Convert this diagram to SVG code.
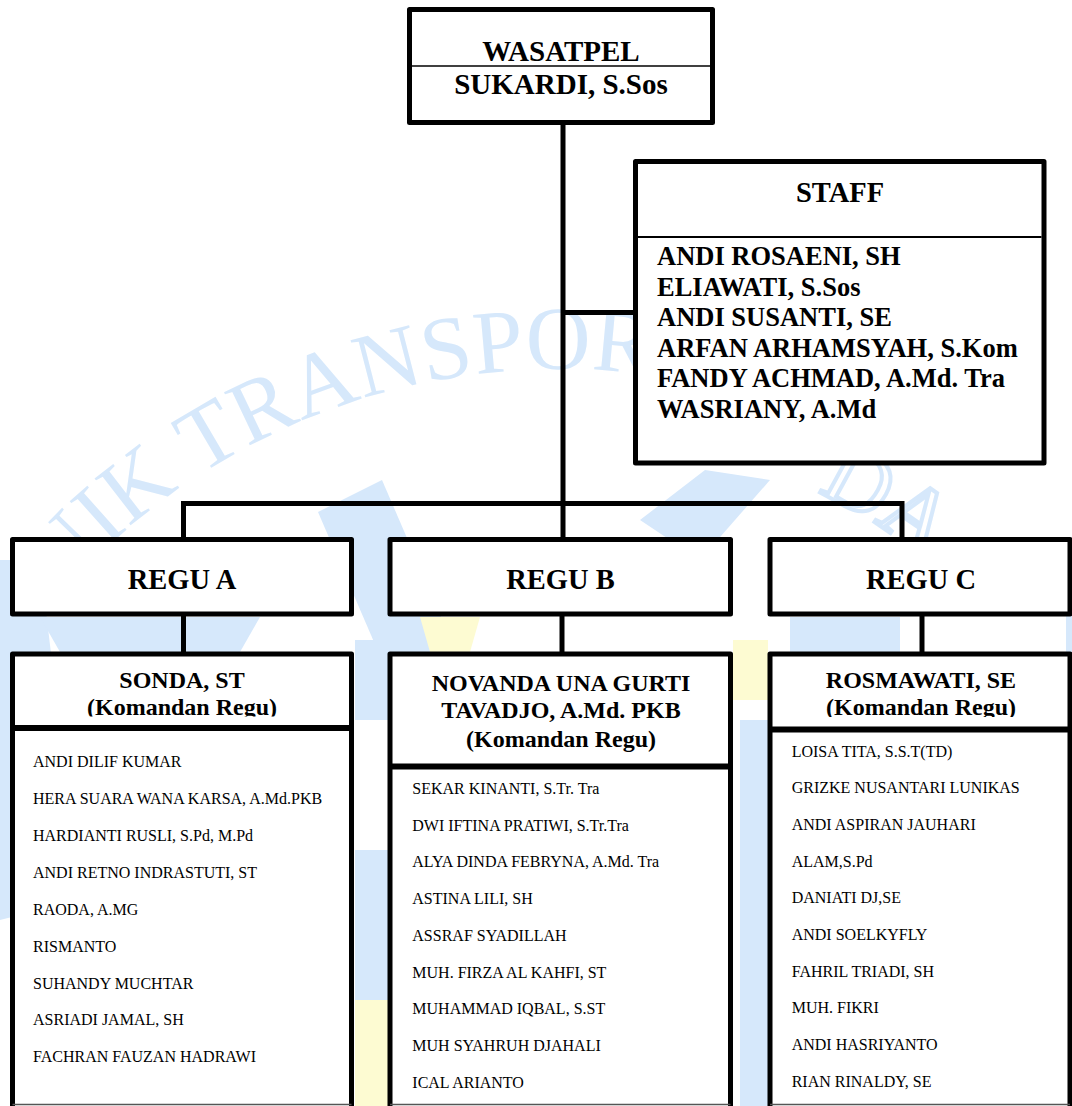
<svg xmlns="http://www.w3.org/2000/svg" width="1072" height="1106" viewBox="0 0 1072 1106">
<defs>
<style>
.box{fill:#fff;stroke:#000;stroke-width:5;stroke-linejoin:round}
.div{stroke:#000;stroke-width:1.6}
.divk{stroke:#000;stroke-width:6}
.conn{stroke:#000;stroke-width:5;fill:none;stroke-linejoin:miter}
.b{font-family:"Liberation Serif","Times New Roman",serif;font-weight:bold;fill:#000}
.c{text-anchor:middle}
.s29{font-size:29px}
.s28{font-size:28.5px}
.s26{font-size:26.5px}
.s24{font-size:24px}
.it{font-family:"Liberation Serif","Times New Roman",serif;font-size:16px;fill:#000}
.bot{stroke:#555;stroke-width:1.5}
.wm{fill:#d6e8fb}
.wmy{fill:#fdfbd2}
.wmt{font-family:"Liberation Serif","Times New Roman",serif;font-size:90px;fill:#d6e8fb;text-anchor:middle}
.wmo{font-family:"Liberation Serif","Times New Roman",serif;font-size:90px;fill:none;stroke:#d6e8fb;stroke-width:4;text-anchor:middle}
</style>
<clipPath id="clipA"><rect x="12" y="654" width="340" height="62.5"/></clipPath>
<clipPath id="clipC"><rect x="770" y="654" width="300" height="63"/></clipPath>
</defs>

<g id="watermark">
  <polygon class="wm" points="318,512 382,480 520,800 455,830"/>
  <polygon class="wm" points="640,520 705,470 770,480 700,560"/>
  <polygon class="wm" points="0,560 40,560 80,900 0,920"/>
  <polygon class="wm" points="40,617 260,617 240,652 60,652"/>
  <polygon class="wm" points="355,640 388,640 388,720 355,720"/>
  <polygon class="wm" points="355,850 388,850 388,1000 355,1000"/>
  <polygon class="wmy" points="355,1000 388,1000 388,1106 355,1106"/>
  <polygon class="wmy" points="733,640 768,640 768,700 733,700"/>
  <polygon class="wm" points="740,720 768,720 768,1106 740,1106"/>
  <polygon class="wm" points="1066,600 1072,600 1072,1000 1066,1000"/>
  <polygon class="wmy" points="420,617 480,617 470,652 430,652"/>
  <polygon class="wm" points="790,617 900,617 900,652 790,652"/>
  <text class="wmt" transform="translate(83.1,570.6) rotate(-45.81)">N</text>
  <text class="wmt" transform="translate(117.6,537.5) rotate(-41.7)">I</text>
  <text class="wmt" transform="translate(154.3,507) rotate(-37.59)">K</text>
  <text class="wmt" transform="translate(223,460.7) rotate(-30.45)">T</text>
  <text class="wmt" transform="translate(274,433.6) rotate(-25.47)">R</text>
  <text class="wmt" transform="translate(331.9,409.4) rotate(-20.06)">A</text>
  <text class="wmt" transform="translate(394.3,389.9) rotate(-14.43)">N</text>
  <text class="wmt" transform="translate(450.7,378) rotate(-9.46)">S</text>
  <text class="wmt" transform="translate(500.7,371.7) rotate(-5.12)">P</text>
  <text class="wmt" transform="translate(558.3,369) rotate(-0.15)">O</text>
  <text class="wmt" transform="translate(621,371.8) rotate(5.27)">R</text>
  <text class="wmo" transform="translate(846.3,506.7) rotate(28.5)">D</text>
  <text class="wmo" transform="translate(900.5,540) rotate(34.56)">A</text>
</g>

<g id="connectors" class="conn">
  <path d="M563 122 V539"/>
  <path d="M563 312.5 H635"/>
  <path d="M183.5 539 V503.5 H902 V539"/>
  <path d="M183.5 614 V654"/>
  <path d="M562 614 V654"/>
  <path d="M922 614 V654"/>
</g>

<g id="wasatpel">
  <rect class="box" x="409.5" y="9.5" width="303" height="113"/>
  <line class="div" x1="412" y1="66" x2="710" y2="66"/>
  <text class="b c s29" x="561" y="61">WASATPEL</text>
  <text class="b c s29" x="561" y="94">SUKARDI, S.Sos</text>
</g>

<g id="staff">
  <rect class="box" x="635.5" y="161.5" width="408.5" height="301.5"/>
  <line class="div" x1="638" y1="237" x2="1041.5" y2="237" style="stroke-width:2"/>
  <text class="b c s28" x="840" y="202">STAFF</text>
  <text class="b s26" x="657" y="265">ANDI ROSAENI, SH</text>
  <text class="b s26" x="657" y="295.6">ELIAWATI, S.Sos</text>
  <text class="b s26" x="657" y="326.2">ANDI SUSANTI, SE</text>
  <text class="b s26" x="657" y="356.8">ARFAN ARHAMSYAH, S.Kom</text>
  <text class="b s26" x="657" y="387.4">FANDY ACHMAD, A.Md. Tra</text>
  <text class="b s26" x="657" y="418">WASRIANY, A.Md</text>
</g>

<g id="regu-a">
  <rect class="box" x="12.5" y="539.5" width="339" height="74.5"/>
  <text class="b c s28" x="182" y="589">REGU A</text>
</g>
<g id="regu-b">
  <rect class="box" x="390" y="539.5" width="340.5" height="74.5"/>
  <text class="b c s28" x="560.5" y="589">REGU B</text>
</g>
<g id="regu-c">
  <rect class="box" x="770" y="539.5" width="300" height="74.5"/>
  <text class="b c s28" x="921" y="589">REGU C</text>
</g>

<g id="team-a">
  <path class="box" d="M12.5 1106 V654 H351.5 V1106"/>
  <line class="divk" x1="12.5" y1="728" x2="351.5" y2="728"/>
  <line class="bot" x1="12.5" y1="1104.5" x2="351.5" y2="1104.5"/>
  <g clip-path="url(#clipA)">
    <text class="b c s24" x="182" y="688">SONDA, ST</text>
    <text class="b c s24" x="182" y="715">(Komandan Regu)</text>
  </g>
  <g class="it">
    <text x="33" y="767.3">ANDI DILIF KUMAR</text>
    <text x="33" y="804.2">HERA SUARA WANA KARSA, A.Md.PKB</text>
    <text x="33" y="841.1">HARDIANTI RUSLI, S.Pd, M.Pd</text>
    <text x="33" y="877.9">ANDI RETNO INDRASTUTI, ST</text>
    <text x="33" y="914.8">RAODA, A.MG</text>
    <text x="33" y="951.7">RISMANTO</text>
    <text x="33" y="988.6">SUHANDY MUCHTAR</text>
    <text x="33" y="1025.4">ASRIADI JAMAL, SH</text>
    <text x="33" y="1062.3">FACHRAN FAUZAN HADRAWI</text>
  </g>
</g>

<g id="team-b">
  <path class="box" d="M390 1106 V654 H730.5 V1106"/>
  <line class="divk" x1="390" y1="766.5" x2="730.5" y2="766.5"/>
  <line class="bot" x1="390" y1="1104.5" x2="730.5" y2="1104.5"/>
  <text class="b c s24" x="561" y="690.7">NOVANDA UNA GURTI</text>
  <text class="b c s24" x="561" y="718.3">TAVADJO, A.Md. PKB</text>
  <text class="b c s24" x="561" y="746.7">(Komandan Regu)</text>
  <g class="it">
    <text x="412.3" y="794">SEKAR KINANTI, S.Tr. Tra</text>
    <text x="412.3" y="830.7">DWI IFTINA PRATIWI, S.Tr.Tra</text>
    <text x="412.3" y="867.4">ALYA DINDA FEBRYNA, A.Md. Tra</text>
    <text x="412.3" y="904.1">ASTINA LILI, SH</text>
    <text x="412.3" y="940.8">ASSRAF SYADILLAH</text>
    <text x="412.3" y="977.5">MUH. FIRZA AL KAHFI, ST</text>
    <text x="412.3" y="1014.2">MUHAMMAD IQBAL, S.ST</text>
    <text x="412.3" y="1051">MUH SYAHRUH DJAHALI</text>
    <text x="412.3" y="1087.7">ICAL ARIANTO</text>
  </g>
</g>

<g id="team-c">
  <path class="box" d="M770 1106 V654 H1070 V1106"/>
  <line class="divk" x1="770" y1="729.5" x2="1070" y2="729.5"/>
  <line class="bot" x1="770" y1="1104.5" x2="1070" y2="1104.5"/>
  <g clip-path="url(#clipC)">
    <text class="b c s24" x="921" y="688">ROSMAWATI, SE</text>
    <text class="b c s24" x="921" y="715">(Komandan Regu)</text>
  </g>
  <g class="it">
    <text x="791.7" y="756.7">LOISA TITA, S.S.T(TD)</text>
    <text x="791.7" y="793.4">GRIZKE NUSANTARI LUNIKAS</text>
    <text x="791.7" y="830">ANDI ASPIRAN JAUHARI</text>
    <text x="791.7" y="866.7">ALAM,S.Pd</text>
    <text x="791.7" y="903.4">DANIATI DJ,SE</text>
    <text x="791.7" y="940">ANDI SOELKYFLY</text>
    <text x="791.7" y="976.7">FAHRIL TRIADI, SH</text>
    <text x="791.7" y="1013.4">MUH. FIKRI</text>
    <text x="791.7" y="1050">ANDI HASRIYANTO</text>
    <text x="791.7" y="1086.7">RIAN RINALDY, SE</text>
  </g>
</g>
</svg>
